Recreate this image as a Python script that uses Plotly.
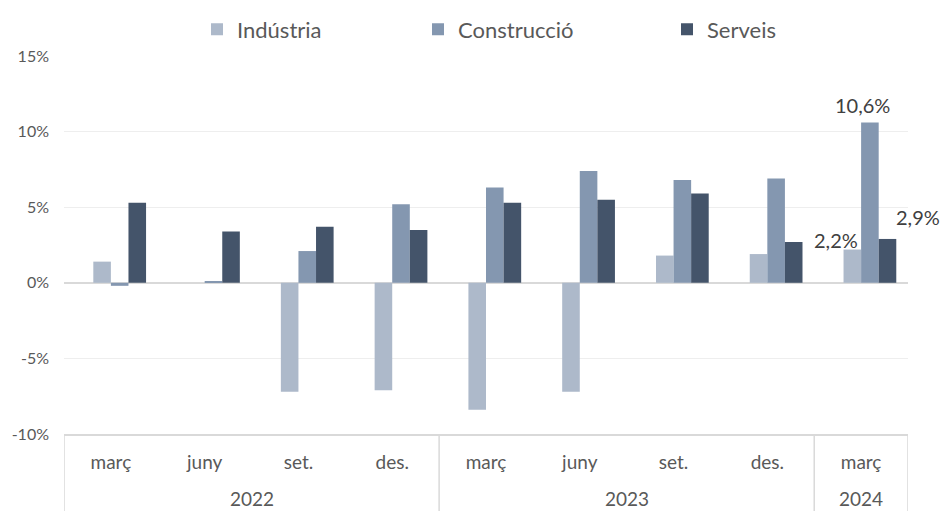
import plotly.graph_objects as go

years = ["2022"] * 4 + ["2023"] * 4 + ["2024"]
months = ["març", "juny", "set.", "des.", "març", "juny", "set.", "des.", "març"]

industria = [1.4, 0.0, -7.2, -7.1, -8.4, -7.2, 1.8, 1.9, 2.2]
construccio = [-0.2, 0.1, 2.1, 5.2, 6.3, 7.4, 6.8, 6.9, 10.6]
serveis = [5.3, 3.4, 3.7, 3.5, 5.3, 5.5, 5.9, 2.7, 2.9]

labels_last = ["2,2%", "10,6%", "2,9%"]
yticks = [-10, -5, 0, 5, 10, 15]
yticktext = ["-10%", "-5%", "0%", "5%", "10%", "15%"]

colors = ["#adb9ca", "#8497b0", "#44546a"]
names = ["Indústria", "Construcció", "Serveis"]
font = "Lato"

W, H = 944, 511
ML, MR, MT, MB = 64, 36, 56, 77
plot_w = W - ML - MR
plot_h = H - MT - MB

xs = list(range(len(months)))
bw = 0.1875
legend_ids = ["legend", "legend2", "legend3"]
legend_px = [197, 418, 667]
fig = go.Figure()
for i, (name, vals, col) in enumerate(zip(names, [industria, construccio, serveis], colors)):
    fig.add_trace(go.Bar(x=xs, y=vals, name=name, width=bw, offset=-bw + i * bw,
                         marker=dict(color=col, line=dict(width=0)), legend=legend_ids[i],
                         hoverinfo="skip"))

n = len(months) - 1
lab_font = dict(family=font, size=20, color="#404040")
fig.add_annotation(x=n - 0.27, y=industria[-1], text=labels_last[0], xref="x", yref="y",
                   xanchor="center", yanchor="middle", showarrow=False, yshift=10, font=lab_font)
fig.add_annotation(x=n + 0.02, y=construccio[-1], text=labels_last[1], xref="x", yref="y",
                   xanchor="center", yanchor="middle", showarrow=False, yshift=18, font=lab_font)
fig.add_annotation(x=n + 2 * bw, y=serveis[-1], text=labels_last[2], xref="x", yref="y",
                   xanchor="left", yanchor="middle", showarrow=False, yshift=22, xshift=-2,
                   font=lab_font)

# year labels and group dividers
div_col = "#d9d9d9"
uniq_years = []
for y in years:
    if y not in uniq_years:
        uniq_years.append(y)
bounds = [-0.5]
for yr in uniq_years:
    idx = [i for i, y in enumerate(years) if y == yr]
    bounds.append(idx[-1] + 0.5)
    fig.add_annotation(x=sum(idx) / len(idx), y=-(498 - (H - MB)) / plot_h, xref="x", yref="paper",
                       text=yr, showarrow=False, xanchor="center", yanchor="middle",
                       font=dict(family=font, size=19, color="#595959"))
for b in bounds:
    fig.add_shape(type="line", xref="x", yref="paper", x0=b, x1=b, y0=0, y1=-MB / plot_h,
                  line=dict(color=div_col, width=1.5))

leg_common = dict(orientation="h", xanchor="left", y=1 + (MT - 29.5) / plot_h, yanchor="middle",
                  font=dict(family=font, size=22, color="#595959"), itemwidth=30,
                  bgcolor="rgba(0,0,0,0)")
fig.update_layout(
    width=W, height=H,
    margin=dict(l=ML, r=MR, t=MT, b=MB, autoexpand=False),
    plot_bgcolor="white", paper_bgcolor="white",
    barmode="overlay",
    font=dict(family=font, size=16, color="#595959"),
    legend=dict(x=(legend_px[0] - ML) / plot_w, **leg_common),
    legend2=dict(x=(legend_px[1] - ML) / plot_w, **leg_common),
    legend3=dict(x=(legend_px[2] - ML) / plot_w, **leg_common),
    showlegend=True,
    hovermode=False,
)
fig.update_yaxes(range=[-10, 15], tickvals=yticks, ticktext=yticktext, showgrid=True,
                 gridcolor="#eeeeee", gridwidth=1, zeroline=True, zerolinecolor="#d9d9d9",
                 zerolinewidth=2, showline=False, ticklabelstandoff=14, automargin=False,
                 tickfont=dict(family=font, size=16, color="#595959"))
fig.update_xaxes(range=[-0.5, len(months) - 0.5], tickvals=xs, ticktext=months,
                 showline=True, linecolor=div_col, linewidth=1.5, showgrid=False,
                 zeroline=False, ticks="", ticklabelstandoff=10, automargin=False,
                 tickfont=dict(family=font, size=19, color="#595959"))

fig.write_html("out.html", config={"displayModeBar": False},
               post_script="document.body.style.margin='0';")
